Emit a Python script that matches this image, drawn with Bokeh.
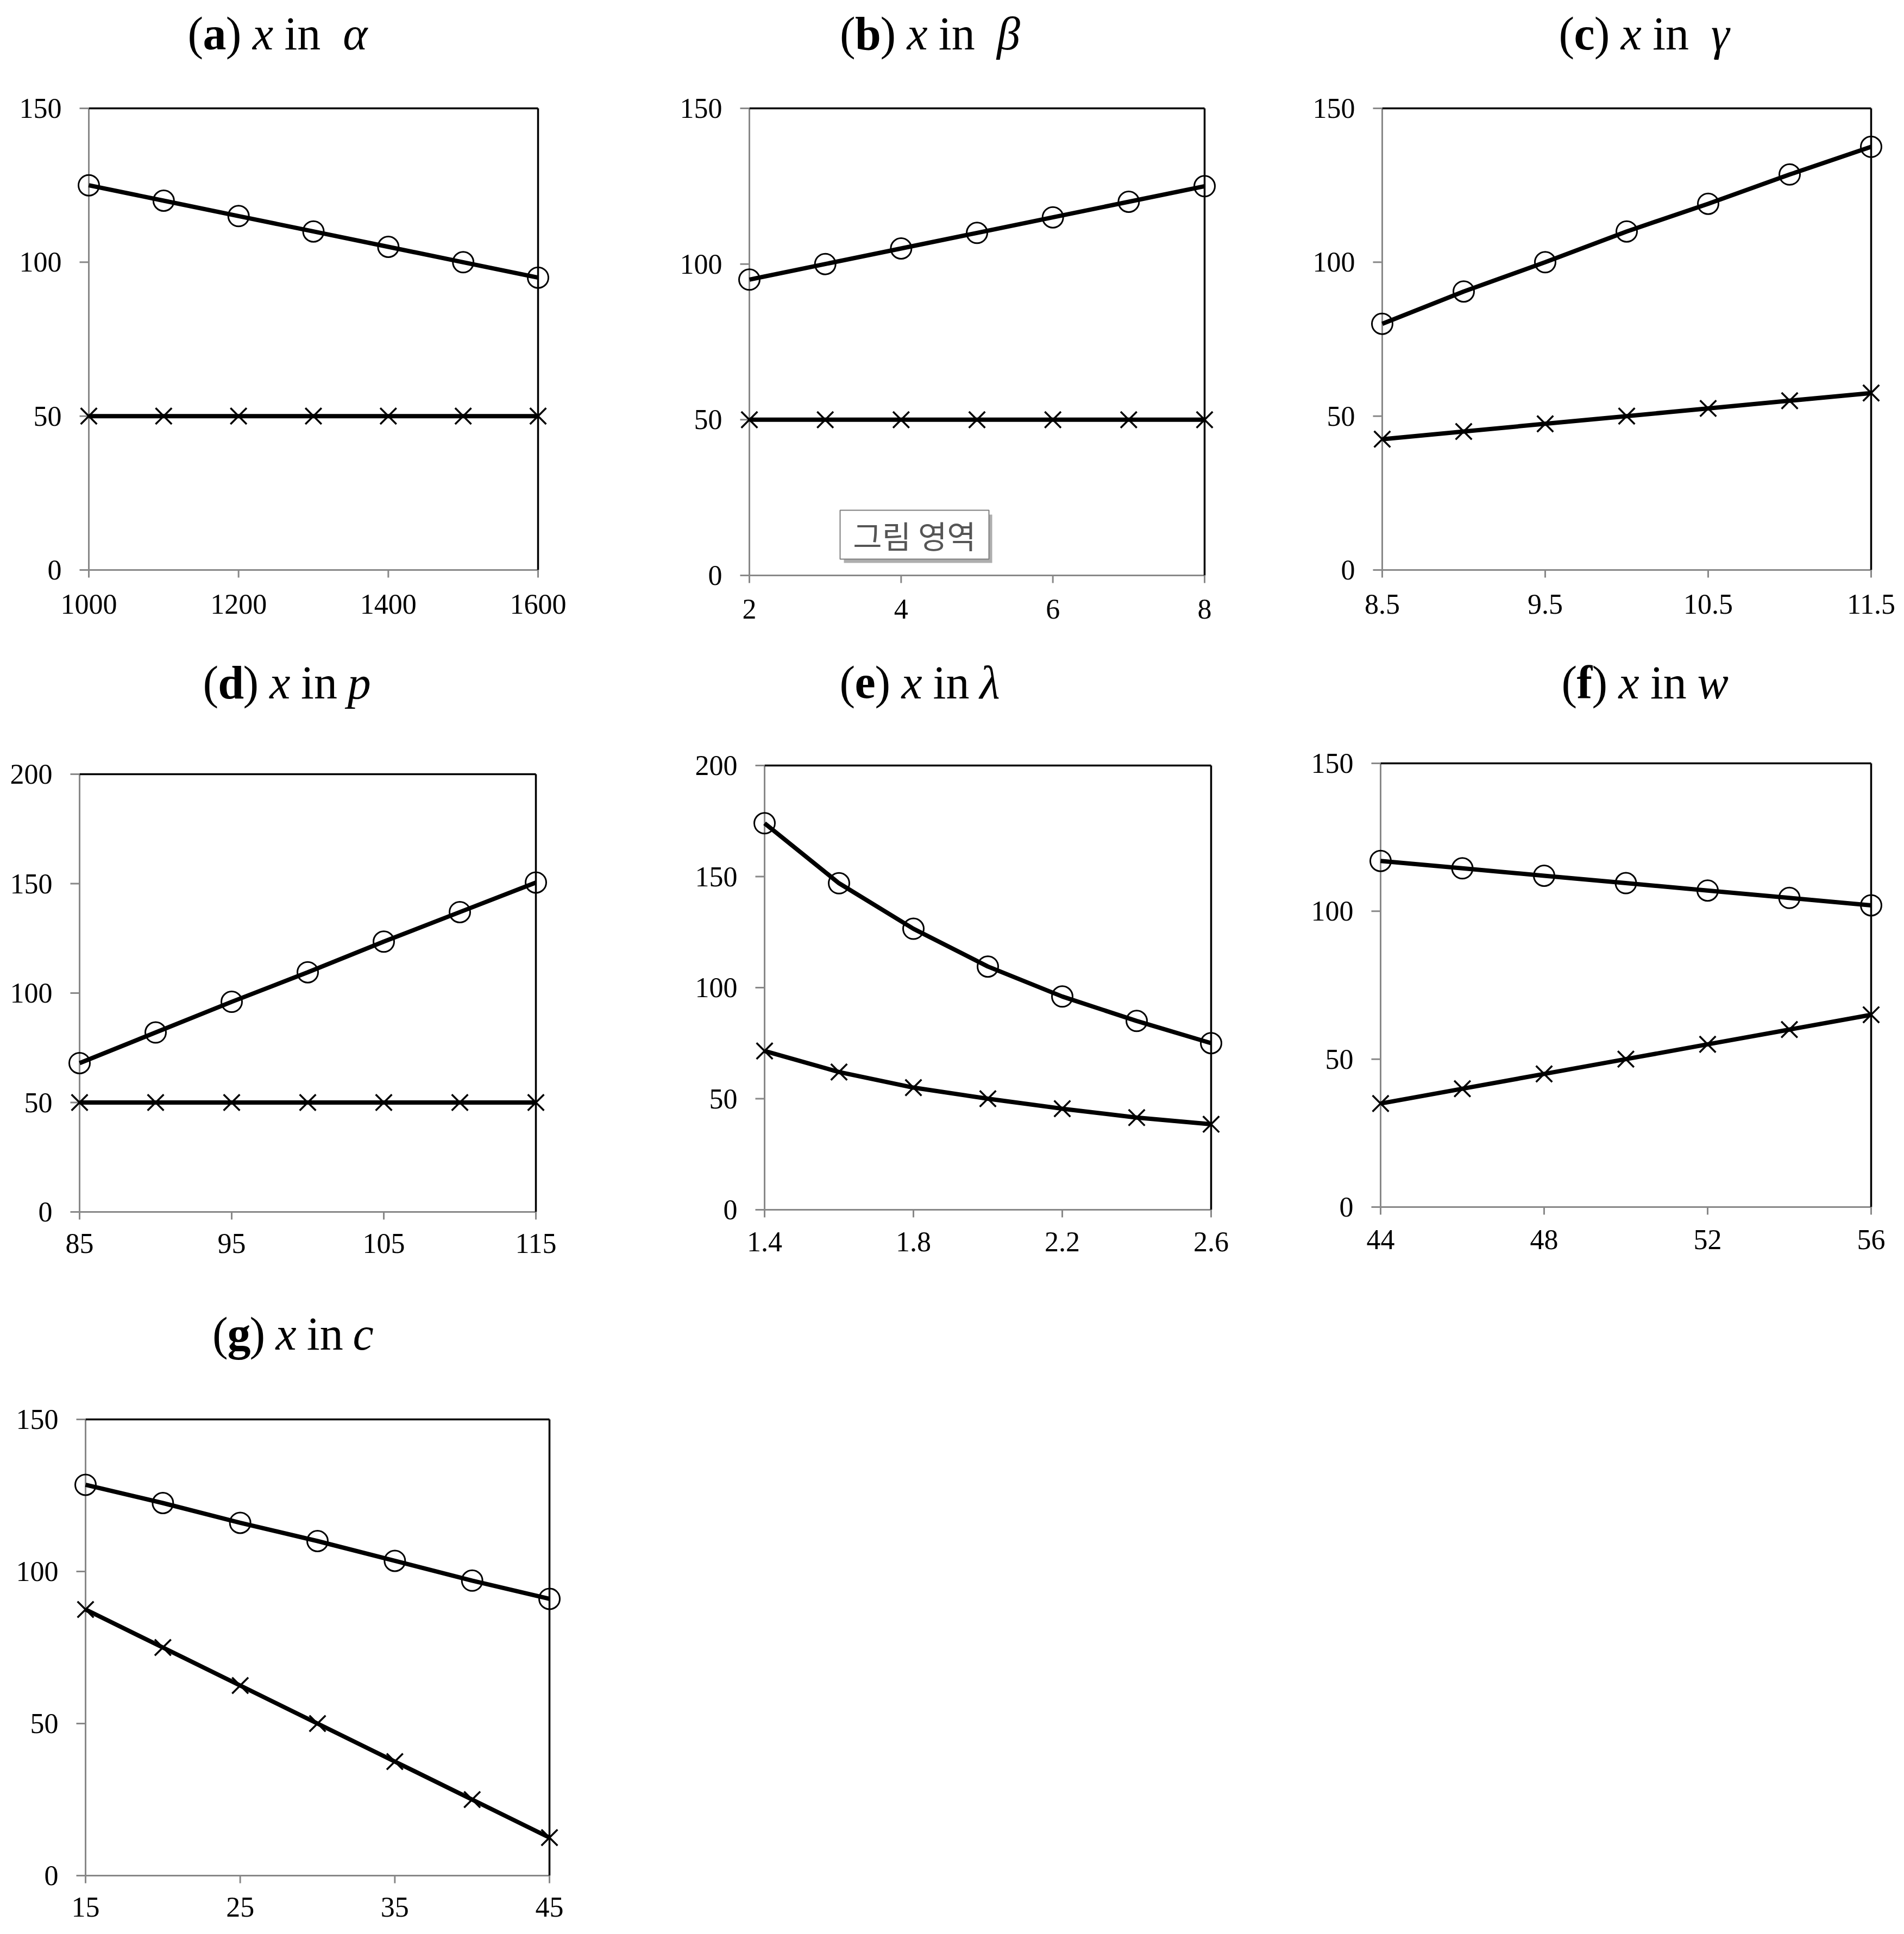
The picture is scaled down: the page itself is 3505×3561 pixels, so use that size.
from bokeh.plotting import figure
from bokeh.layouts import column, row
from bokeh.models import Range1d, Label, BoxAnnotation, FixedTicker
from bokeh.embed import file_html
from bokeh.resources import INLINE

# ---------------- data ----------------
a_x = [1000, 1100, 1200, 1300, 1400, 1500, 1600]
a_circle = [125, 120, 115, 110, 105, 100, 95]
a_cross = [50, 50, 50, 50, 50, 50, 50]
a_xticks = [1000, 1200, 1400, 1600]
a_yticks = [0, 50, 100, 150]

b_x = [2, 3, 4, 5, 6, 7, 8]
b_circle = [95, 100, 105, 110, 115, 120, 125]
b_cross = [50, 50, 50, 50, 50, 50, 50]
b_xticks = [2, 4, 6, 8]
b_yticks = [0, 50, 100, 150]

c_x = [8.5, 9, 9.5, 10, 10.5, 11, 11.5]
c_circle = [80, 90.5, 100, 110, 119, 128.5, 137.5]
c_cross = [42.5, 45, 47.5, 50, 52.5, 55, 57.5]
c_xticks = [8.5, 9.5, 10.5, 11.5]
c_yticks = [0, 50, 100, 150]

d_x = [85, 90, 95, 100, 105, 110, 115]
d_circle = [68, 82, 96, 109.5, 123.5, 137, 150.5]
d_cross = [50, 50, 50, 50, 50, 50, 50]
d_xticks = [85, 95, 105, 115]
d_yticks = [0, 50, 100, 150, 200]

e_x = [1.4, 1.6, 1.8, 2.0, 2.2, 2.4, 2.6]
e_circle = [174, 147, 126.5, 109.5, 96, 85, 75]
e_cross = [71.5, 62, 55, 50, 45.5, 41.5, 38.5]
e_xticks = [1.4, 1.8, 2.2, 2.6]
e_yticks = [0, 50, 100, 150, 200]

f_x = [44, 46, 48, 50, 52, 54, 56]
f_circle = [117, 114.5, 112, 109.5, 107, 104.5, 102]
f_cross = [35, 40, 45, 50, 55, 60, 65]
f_xticks = [44, 48, 52, 56]
f_yticks = [0, 50, 100, 150]

g_x = [15, 20, 25, 30, 35, 40, 45]
g_circle = [128.5, 122.5, 116, 110, 103.5, 97, 91]
g_cross = [87.5, 75, 62.5, 50, 37.5, 25, 12.5]
g_xticks = [15, 25, 35, 45]
g_yticks = [0, 50, 100, 150]

titles = {
    "a": ("a", "α", True),
    "b": ("b", "β", True),
    "c": ("c", "γ", True),
    "d": ("d", "p", False),
    "e": ("e", "λ", False),
    "f": ("f", "w", False),
    "g": ("g", "c", False),
}
annotation_text = "그림 영역"

# ---------------- layout / style ----------------
GRAY = "#888888"
SERIF = "Liberation Serif"
P_L, P_R, P_B = 25, 25, 16
TICK_Y, TICK_X = 17, 14

COLS = [(0, 1180), (1180, 1180), (2360, 1140)]
ROWS = [(0, 1175), (1175, 1205), (2380, 1178)]
# common frame top / bottom per row (page px)
ROW_FRAME = [(4, 1075), (1190, 2247), (2390, 3469)]

# axis box (left, top, right, bottom) in page pixels
BOX = {
    "a": (163, 199, 990, 1049),
    "b": (1379, 199, 2217, 1059),
    "c": (2544, 199, 3444, 1049),
    "d": (146, 1425, 986, 2231),
    "e": (1407, 1409, 2229, 2227),
    "f": (2541, 1405, 3444, 2222),
    "g": (157, 2613, 1011, 3453),
}
XLAB_Y = {"a": 1113, "b": 1122, "c": 1113, "d": 2290, "e": 2287, "f": 2283, "g": 3512}
# title centre x, centre y, span width (page pixels)
TITLE_POS = {
    "a": (511, 61, 332),
    "b": (1711, 61, 331),
    "c": (3028, 61, 318),
    "d": (527, 1256, 308),
    "e": (1695, 1256, 300),
    "f": (3027, 1256, 306),
    "g": (538, 2455, 295),
}
BOLD_W = {"a": .5, "b": .556, "c": .444, "d": .556, "e": .444, "f": .333, "g": .5}
VAR_W = {"α": .55, "β": .5, "γ": .45, "p": .5, "λ": .5, "w": .667, "c": .444}
TITLE_FS = 86


def make_panel(key, ci, ri, xs, yc, yx, xticks, yticks):
    cx, cw = COLS[ci]
    cy, ch = ROWS[ri]
    FT, FB = ROW_FRAME[ri]
    L, T, R, B = BOX[key]
    x0, x1 = xticks[0], xticks[-1]
    ymax = yticks[-1]
    xpp = (x1 - x0) / (R - L)
    ypp = ymax / (B - T)

    def px2x(px):
        return x0 + (px - L) * xpp

    def py2y(py):
        return ymax - (py - T) * ypp

    p = figure(width=cw, height=ch,
               x_range=Range1d(px2x(L - P_L), px2x(R + P_R)),
               y_range=Range1d(py2y(FB), py2y(FT)),
               output_backend="svg", toolbar_location=None,
               min_border_left=L - P_L - cx, min_border_right=cx + cw - (R + P_R),
               min_border_top=FT - cy, min_border_bottom=cy + ch - FB)
    p.outline_line_color = None
    p.xgrid.visible = False
    p.ygrid.visible = False
    p.background_fill_color = "white"
    p.border_fill_color = "white"
    xstand = XLAB_Y[key] - 19 - FB
    for ax, ticks, standoff in ((p.xaxis[0], xticks, xstand), (p.yaxis[0], yticks, 25)):
        ax.ticker = FixedTicker(ticks=ticks)
        ax.axis_line_color = None
        ax.major_tick_line_color = None
        ax.minor_tick_line_color = None
        ax.major_tick_in = 0
        ax.major_tick_out = 0
        ax.minor_tick_in = 0
        ax.minor_tick_out = 0
        ax.major_label_standoff = standoff
        ax.major_label_text_font = SERIF
        ax.major_label_text_font_size = "52px"
        ax.major_label_text_color = "black"

    # frame lines: left/bottom grey axes, top/right black border
    p.segment(x0=[x0, x0], y0=[0, 0], x1=[x0, x1], y1=[ymax, 0],
              line_color=GRAY, line_width=3)
    p.segment(x0=[x0, x1], y0=[ymax, 0], x1=[x1, x1], y1=[ymax, ymax],
              line_color="black", line_width=3.5)
    # outward ticks
    p.segment(x0=[x0 - TICK_Y * xpp] * len(yticks), y0=yticks,
              x1=[x0] * len(yticks), y1=yticks, line_color=GRAY, line_width=3)
    p.segment(x0=xticks, y0=[0] * len(xticks), x1=xticks,
              y1=[-TICK_X * ypp] * len(xticks), line_color=GRAY, line_width=3)

    # data
    p.line(xs, yc, line_color="black", line_width=8)
    p.line(xs, yx, line_color="black", line_width=8)
    p.scatter(xs, yc, marker="circle", size=38, fill_color=None,
              line_color="black", line_width=3)
    p.scatter(xs, yx, marker="x", size=42, line_color="black", line_width=3.5)

    # title pieces
    letter, var, two = titles[key]
    pieces = [("(", "normal", .333, 0), (letter, "bold", BOLD_W[letter], 0),
              (")", "normal", .333, .25), ("x", "italic", .444, .25),
              ("in", "normal", .778, .5 if two else .25), (var, "italic", VAR_W[var], 0)]
    total = sum(w + g for _, _, w, g in pieces)
    tcx, tcy, span = TITLE_POS[key]
    k = span / (total * TITLE_FS)
    pos = tcx - span / 2
    for txt, style, w, gap in pieces:
        p.add_layout(Label(x=px2x(pos), y=py2y(tcy), text=txt, text_font=SERIF,
                           text_font_size=f"{TITLE_FS}px", text_font_style=style,
                           text_align="left", text_baseline="middle", text_color="black"))
        pos += (w + gap) * TITLE_FS * k

    if key == "b":
        bl, bt, br, bb = 1546, 939, 1820, 1029
        p.add_layout(BoxAnnotation(left=px2x(bl + 7), right=px2x(br + 6), top=py2y(bt + 8),
                                   bottom=py2y(bb + 7), fill_color="#9a9a9a", fill_alpha=0.8,
                                   line_color=None))
        p.add_layout(BoxAnnotation(left=px2x(bl), right=px2x(br), top=py2y(bt),
                                   bottom=py2y(bb), fill_color="white", fill_alpha=1.0,
                                   line_color="#7f7f7f", line_width=2, line_alpha=1.0))
        p.add_layout(Label(x=px2x((bl + br) / 2), y=py2y((bt + bb) / 2), text=annotation_text,
                           text_font="Noto Sans CJK KR", text_font_size="58px",
                           text_align="center", text_baseline="middle", text_color="#555555"))
    return p


pa = make_panel("a", 0, 0, a_x, a_circle, a_cross, a_xticks, a_yticks)
pb = make_panel("b", 1, 0, b_x, b_circle, b_cross, b_xticks, b_yticks)
pc = make_panel("c", 2, 0, c_x, c_circle, c_cross, c_xticks, c_yticks)
pd = make_panel("d", 0, 1, d_x, d_circle, d_cross, d_xticks, d_yticks)
pe = make_panel("e", 1, 1, e_x, e_circle, e_cross, e_xticks, e_yticks)
pf = make_panel("f", 2, 1, f_x, f_circle, f_cross, f_xticks, f_yticks)
pg = make_panel("g", 0, 2, g_x, g_circle, g_cross, g_xticks, g_yticks)

layout = column(row(pa, pb, pc), row(pd, pe, pf), row(pg))
open("out.html", "w").write(file_html(layout, INLINE))
